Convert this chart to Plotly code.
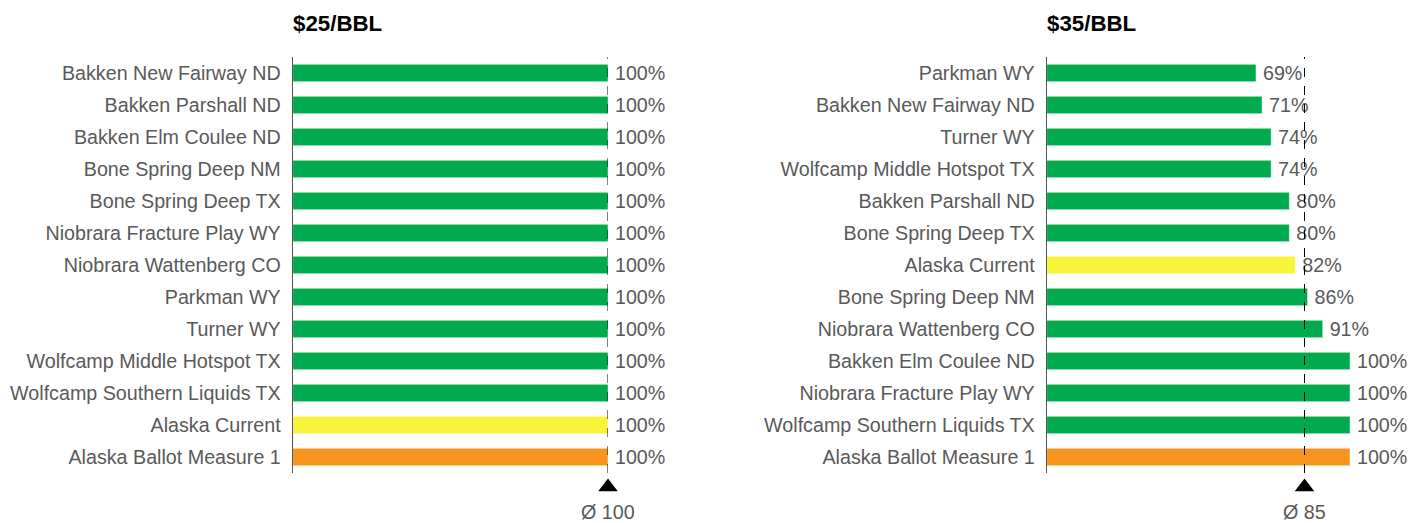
import plotly.graph_objects as go

# --- data ---
left_title = "$25/BBL"
left_names = ["Bakken New Fairway ND", "Bakken Parshall ND", "Bakken Elm Coulee ND",
              "Bone Spring Deep NM", "Bone Spring Deep TX", "Niobrara Fracture Play WY",
              "Niobrara Wattenberg CO", "Parkman WY", "Turner WY",
              "Wolfcamp Middle Hotspot TX", "Wolfcamp Southern Liquids TX",
              "Alaska Current", "Alaska Ballot Measure 1"]
left_values = [100, 100, 100, 100, 100, 100, 100, 100, 100, 100, 100, 100, 100]
left_avg = 100

right_title = "$35/BBL"
right_names = ["Parkman WY", "Bakken New Fairway ND", "Turner WY",
               "Wolfcamp Middle Hotspot TX", "Bakken Parshall ND", "Bone Spring Deep TX",
               "Alaska Current", "Bone Spring Deep NM", "Niobrara Wattenberg CO",
               "Bakken Elm Coulee ND", "Niobrara Fracture Play WY",
               "Wolfcamp Southern Liquids TX", "Alaska Ballot Measure 1"]
right_values = [69, 71, 74, 74, 80, 80, 82, 86, 91, 100, 100, 100, 100]
right_avg = 85

GREEN = "#00AB4E"
YELLOW = "#F8F43C"
ORANGE = "#F7941E"
GREY = "#595959"
FONT = "Liberation Sans, Arial, sans-serif"

# the page puts the figure 8px in from the top-left corner
OFF = 8
W, H = 1420 - OFF, 523 - OFF


def px_x(x):
    return (x - OFF) / W


def px_y(y):
    return (H - (y - OFF)) / H


def bar_color(name):
    if name == "Alaska Current":
        return YELLOW
    if name == "Alaska Ballot Measure 1":
        return ORANGE
    return GREEN


fig = go.Figure()

panels = [
    (left_names, left_values, left_avg, left_title, "x", "y", "y3", (292.7, 608.0)),
    (right_names, right_values, right_avg, right_title, "x2", "y2", "y4", (1046.7, 1350.0)),
]

y_dom = [px_y(473), px_y(57)]

for names, values, avg, title, xa, ya, ym, (x0, x100) in panels:
    fig.add_trace(go.Bar(
        x=values, y=names, orientation="h",
        xaxis=xa, yaxis=ya,
        marker=dict(color=[bar_color(n) for n in names],
                    line=dict(color="rgba(255,255,255,0.45)", width=1)),
        text=[f"\u2009{v}%" for v in values], textposition="outside",
        constraintext="none",
        textfont=dict(size=19.7, color=GREY, family=FONT),
        cliponaxis=False, showlegend=False, hoverinfo="x+y",
    ))
    # dashed average line
    fig.add_shape(type="line", xref=xa, yref=f"{ya} domain",
                  x0=avg, x1=avg, y0=0.0, y1=1.0,
                  line=dict(color="black", width=1, dash="dash"))
    # average marker (on a hidden pixel-scaled axis: value = px above window bottom)
    fig.add_trace(go.Scatter(
        x=[avg], y=[523 - 487], xaxis=xa, yaxis=ym, mode="markers",
        marker=dict(symbol="triangle-up", size=17, color="black"),
        cliponaxis=False, showlegend=False, hoverinfo="skip",
    ))
    fig.add_annotation(xref=xa, yref="paper", x=avg, y=px_y(512),
                       yanchor="middle", text=f"Ø {avg}", showarrow=False,
                       font=dict(size=19.7, color=GREY, family=FONT))
    # panel title
    fig.add_annotation(xref="paper", yref="paper", x=px_x(x0) - 0.001, y=px_y(24),
                       xanchor="left", yanchor="middle",
                       text=f"<b>{title}</b>", showarrow=False,
                       font=dict(size=22.3, color="black", family=FONT))

    # axes
    dom = [px_x(x0), px_x(x100)]
    xkey = "xaxis" if xa == "x" else "xaxis2"
    ykey = "yaxis" if ya == "y" else "yaxis2"
    mkey = "yaxis3" if ym == "y3" else "yaxis4"
    fig.update_layout({
        xkey: dict(domain=dom, range=[0, 100], visible=False, anchor=ya),
        ykey: dict(domain=y_dom, anchor=xa, type="category",
                   categoryorder="array", categoryarray=names,
                   range=[len(names) - 0.5, -0.5],
                   showline=True, linecolor="#555555", linewidth=1,
                   showgrid=False, zeroline=False, ticks="",
                   ticklabelstandoff=7,
                   tickfont=dict(size=19.7, color=GREY, family=FONT)),
        mkey: dict(domain=[0, 1], range=[0, H], anchor=xa,
                   visible=False, fixedrange=True),
    })

fig.update_layout(
    width=W, height=H,
    margin=dict(l=0, r=0, t=0, b=0),
    plot_bgcolor="rgba(0,0,0,0)", paper_bgcolor="white",
    bargap=0.46,
    font=dict(family=FONT, color=GREY),
)

fig.write_html("out.html")
